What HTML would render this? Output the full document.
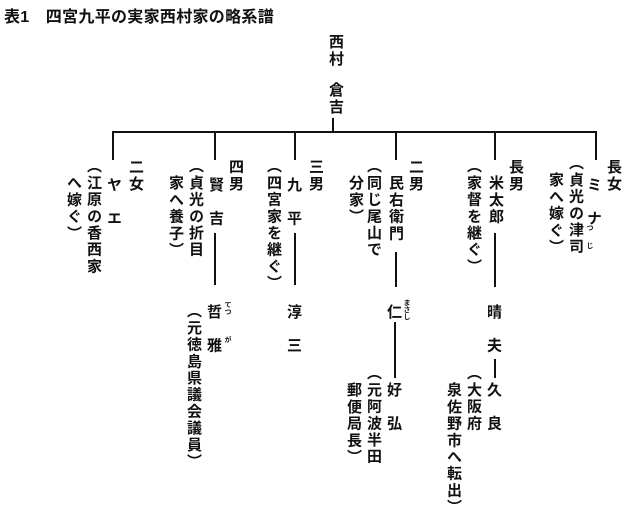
<!DOCTYPE html>
<html><head><meta charset="utf-8"><style>
body{margin:0;width:624px;height:508px;background:#fff;position:relative;overflow:hidden;font-family:"Liberation Sans","Noto Sans CJK JP",sans-serif;color:#111}
.v{position:absolute;writing-mode:vertical-rl;font-size:15px;line-height:16px;letter-spacing:1.7px;font-weight:bold;white-space:nowrap;width:16px}
.r{position:absolute;writing-mode:vertical-rl;font-size:7px;line-height:7px;font-weight:bold;white-space:nowrap}
.l{position:absolute;background:#111}
.t{position:absolute;left:4px;top:3px;font-size:16px;font-weight:bold;letter-spacing:0.3px}
</style></head><body>
<div class="t">表1　四宮九平の実家西村家の略系譜</div>

<div class="v" style="left:327px;top:34px">西村</div>
<div class="v" style="left:327px;top:82px">倉吉</div>
<div class="l" style="left:332px;top:118px;width:1.5px;height:15px"></div>
<div class="l" style="left:112px;top:131px;width:485px;height:1.5px"></div>
<div class="l" style="left:112px;top:131px;width:1.5px;height:29px"></div>
<div class="l" style="left:214px;top:131px;width:1.5px;height:29px"></div>
<div class="l" style="left:294px;top:131px;width:1.5px;height:29px"></div>
<div class="l" style="left:395px;top:131px;width:1.5px;height:29px"></div>
<div class="l" style="left:494px;top:131px;width:1.5px;height:29px"></div>
<div class="l" style="left:595px;top:131px;width:1.5px;height:29px"></div>

<div class="v" style="left:605px;top:159px">長女</div>
<div class="v" style="left:585px;top:177px">ミ　ナ</div>
<div class="v" style="left:567px;top:155px">（貞光の津司</div>
<div class="r" style="left:586px;top:224px">つ</div>
<div class="r" style="left:586px;top:242px">じ</div>
<div class="v" style="left:547px;top:172px">家へ嫁ぐ）</div>

<div class="v" style="left:507px;top:159px">長男</div>
<div class="v" style="left:487px;top:175px">米太郎</div>
<div class="v" style="left:465px;top:158px">（家督を継ぐ）</div>

<div class="v" style="left:407px;top:159px">二男</div>
<div class="v" style="left:387px;top:175px">民右衛門</div>
<div class="v" style="left:365px;top:158px">（同じ尾山で</div>
<div class="v" style="left:347px;top:175px">分家）</div>

<div class="v" style="left:307px;top:159px">三男</div>
<div class="v" style="left:285px;top:177px">九　平</div>
<div class="v" style="left:265px;top:158px">（四宮家を継ぐ）</div>

<div class="v" style="left:227px;top:159px">四男</div>
<div class="v" style="left:207px;top:177px">賢　吉</div>
<div class="v" style="left:187px;top:158px">（貞光の折目</div>
<div class="v" style="left:167px;top:175px">家へ養子）</div>

<div class="v" style="left:127px;top:159px">二女</div>
<div class="v" style="left:105px;top:177px">ヤ　エ</div>
<div class="v" style="left:85px;top:158px">（江原の香西家</div>
<div class="v" style="left:65px;top:175px">へ嫁ぐ）</div>

<div class="l" style="left:214px;top:233px;width:1.5px;height:52px"></div>
<div class="l" style="left:294px;top:233px;width:1.5px;height:52px"></div>
<div class="l" style="left:395px;top:252px;width:1.5px;height:35px"></div>
<div class="l" style="left:494px;top:233px;width:1.5px;height:54px"></div>

<div class="v" style="left:205px;top:304px">哲　雅</div>
<div class="r" style="left:224px;top:301px">てつ</div>
<div class="r" style="left:224px;top:336px">が</div>
<div class="v" style="left:185px;top:303px">（元徳島県議会議員）</div>

<div class="v" style="left:285px;top:304px">淳　三</div>

<div class="v" style="left:385px;top:304px">仁</div>
<div class="r" style="left:403px;top:299px">まさし</div>
<div class="l" style="left:394px;top:322px;width:1.5px;height:56px"></div>
<div class="v" style="left:385px;top:382px">好　弘</div>
<div class="v" style="left:365px;top:365px">（元阿波半田</div>
<div class="v" style="left:345px;top:382px">郵便局長）</div>

<div class="v" style="left:485px;top:304px">晴　夫</div>
<div class="l" style="left:494px;top:359px;width:1.5px;height:19px"></div>
<div class="v" style="left:485px;top:382px">久　良</div>
<div class="v" style="left:465px;top:365px">（大阪府</div>
<div class="v" style="left:445px;top:382px">泉佐野市へ転出）</div>
</body></html>
